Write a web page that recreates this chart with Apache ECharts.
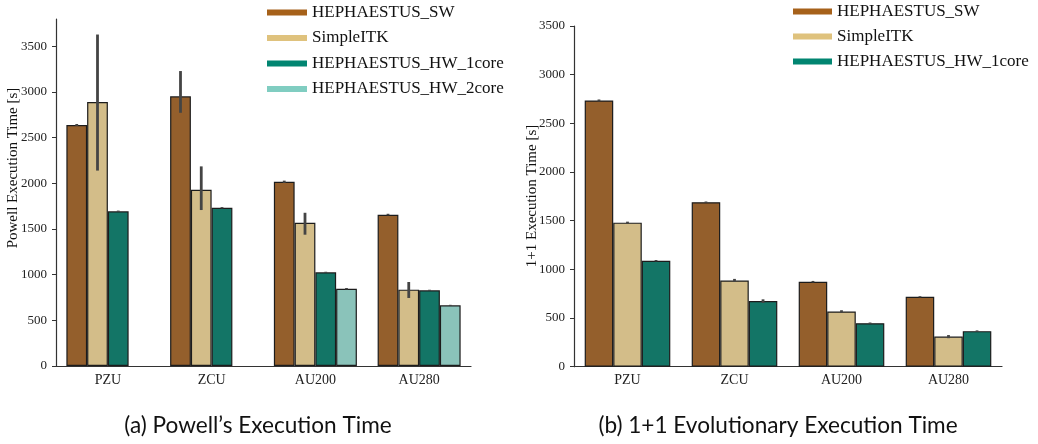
<!DOCTYPE html>
<html>
<head>
<meta charset="utf-8">
<script src="https://cdn.jsdelivr.net/npm/echarts@6/dist/echarts.min.js"></script>
<style>
  html, body { margin: 0; padding: 0; background: #fff; }
  #chart { width: 1038px; height: 444px; }
</style>
</head>
<body>
<div id="chart"></div>
<script>
// categories
var boards = ['PZU', 'ZCU', 'AU200', 'AU280']
var seriesNames = ['HEPHAESTUS_SW', 'SimpleITK', 'HEPHAESTUS_HW_1core', 'HEPHAESTUS_HW_2core']
var yTicks = [0, 500, 1000, 1500, 2000, 2500, 3000, 3500]

// (a) Powell execution time [s]
var powellSW = [2640, 2953, 2018, 1657]
var powellITK = [2891, 1930, 1569, 836]
var powellHW1 = [1694, 1733, 1026, 829]
var powellHW2 = [null, null, 846, 664]
var powellSWErr = [[2628, 2650], [2773, 3230], [2005, 2030], [1650, 1667]]
var powellITKErr = [[2140, 3630], [1708, 2186], [1438, 1678], [745, 920]]
var powellHW1Err = [[1688, 1702], [1726, 1740], [1020, 1032], [823, 835]]
var powellHW2Err = [null, null, [838, 854], [657, 670]]

// (b) 1+1 evolutionary execution time [s]
var evoSW = [2735, 1690, 873, 718]
var evoITK = [1480, 886, 567, 309]
var evoHW1 = [1089, 674, 447, 365]
var evoSWErr = [[2725, 2745], [1682, 1697], [865, 881], [712, 724]]
var evoITKErr = [[1470, 1490], [870, 902], [555, 580], [293, 325]]
var evoHW1Err = [[1082, 1096], [655, 692], [440, 454], [357, 373]]

var barColors = ['#945f2c', '#d3bd89', '#137566', '#8ac3ba']
var legendColors = ['#a6611a', '#dfc27d', '#018571', '#80cdc1']
var serif = 'Liberation Serif'

var myChart = echarts.init(document.getElementById('chart'))

function barSeries(name, idx, axis, data) {
  return {
    name: name,
    type: 'bar',
    xAxisIndex: axis,
    yAxisIndex: axis,
    barGap: '0%',
    barCategoryGap: '20%',
    itemStyle: { color: barColors[idx], borderColor: '#1c1c1c', borderWidth: 1.2 },
    emphasis: { disabled: true },
    data: data
  }
}

// error bars drawn at the bar centre inside its group
function errSeries(name, idx, count, axis, errs) {
  var data = []
  for (var i = 0; i < errs.length; i++) {
    if (errs[i]) data.push([i, errs[i][0], errs[i][1]])
  }
  return {
    name: name,
    type: 'custom',
    xAxisIndex: axis,
    yAxisIndex: axis,
    z: 5,
    silent: true,
    data: data,
    renderItem: function(params, api) {
      var band = api.size([1, 0])[0]
      var bw = band * 0.8 / count
      var lo = api.coord([api.value(0), api.value(1)])
      var hi = api.coord([api.value(0), api.value(2)])
      var x = lo[0] - band * 0.4 + (idx + 0.5) * bw
      return {
        type: 'line',
        shape: { x1: x, y1: lo[1], x2: x, y2: hi[1] },
        style: { stroke: '#444', lineWidth: 2.8 }
      }
    }
  }
}

function legendData(n) {
  var d = []
  for (var i = 0; i < n; i++) {
    d.push({ name: seriesNames[i], itemStyle: { color: legendColors[i], borderWidth: 0 } })
  }
  return d
}

var axisColor = '#333'
function xAxis(grid) {
  return {
    type: 'category',
    gridIndex: grid,
    data: boards,
    axisLine: { lineStyle: { color: axisColor, width: 1.2 } },
    axisTick: { alignWithLabel: true, length: 4, lineStyle: { color: axisColor } },
    axisLabel: { color: '#222', fontFamily: serif, fontSize: 14, margin: 7 }
  }
}
function yAxis(grid, max) {
  return {
    type: 'value',
    gridIndex: grid,
    min: 0,
    max: max,
    interval: 500,
    splitLine: { show: false },
    axisLine: { show: true, lineStyle: { color: axisColor, width: 1.2 } },
    axisTick: { show: true, length: 4, lineStyle: { color: axisColor }, customValues: yTicks },
    axisLabel: {
      color: '#222', fontFamily: serif, fontSize: 13, margin: 9, customValues: yTicks,
      formatter: function(v) { return String(v) }
    }
  }
}

function captionText(text, x, y, rotate, font) {
  return {
    type: 'text', x: x, y: y, rotation: rotate,
    style: { text: text, align: 'center', verticalAlign: 'middle',
      fontFamily: font, fontSize: font === serif ? 15 : 22.6, fill: '#111' }
  }
}

var option = {
  animation: false,
  grid: [
    { left: 56, top: 19, width: 415, height: 347 },
    { left: 574, top: 26, width: 428, height: 340.7 }
  ],
  legend: [
    {
      orient: 'vertical', left: 267, top: 4, padding: 0, itemWidth: 40, itemHeight: 6, itemGap: 8.5,
      icon: 'rect', selectedMode: false,
      textStyle: { fontFamily: serif, fontSize: 17, color: '#111', lineHeight: 17 },
      data: legendData(4)
    },
    {
      orient: 'vertical', left: 793, top: 3, padding: 0, itemWidth: 39, itemHeight: 6, itemGap: 8,
      icon: 'rect', selectedMode: false,
      textStyle: { fontFamily: serif, fontSize: 17, color: '#111', lineHeight: 17 },
      data: legendData(3)
    }
  ],
  xAxis: [xAxis(0), xAxis(1)],
  yAxis: [yAxis(0, 3800), yAxis(1, 3500)],
  series: [
    barSeries(seriesNames[0], 0, 0, powellSW),
    barSeries(seriesNames[1], 1, 0, powellITK),
    barSeries(seriesNames[2], 2, 0, powellHW1),
    barSeries(seriesNames[3], 3, 0, powellHW2),
    errSeries('err0', 0, 4, 0, powellSWErr),
    errSeries('err1', 1, 4, 0, powellITKErr),
    errSeries('err2', 2, 4, 0, powellHW1Err),
    errSeries('err3', 3, 4, 0, powellHW2Err),
    barSeries(seriesNames[0], 0, 1, evoSW),
    barSeries(seriesNames[1], 1, 1, evoITK),
    barSeries(seriesNames[2], 2, 1, evoHW1),
    errSeries('err4', 0, 3, 1, evoSWErr),
    errSeries('err5', 1, 3, 1, evoITKErr),
    errSeries('err6', 2, 3, 1, evoHW1Err)
  ],
  graphic: [
    captionText('Powell Execution Time [s]', 13, 168, Math.PI / 2, serif),
    captionText('1+1 Execution Time [s]', 532, 196, Math.PI / 2, serif),
    captionText('(a) Powell’s Execution Time', 258, 426, 0, 'Lato'),
    captionText('(b) 1+1 Evolutionary Execution Time', 778, 426, 0, 'Lato')
  ]
}

myChart.setOption(option)
</script>
</body>
</html>
